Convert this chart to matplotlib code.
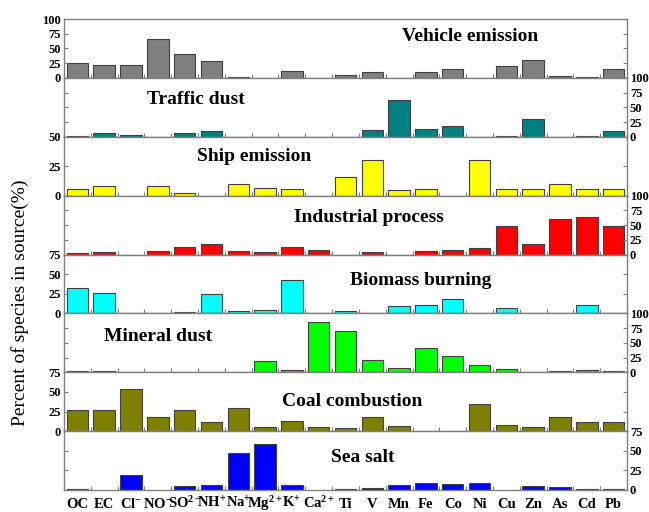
import matplotlib
matplotlib.use('Agg')
import matplotlib.pyplot as plt
import numpy as np

plt.rcParams['font.family'] = 'Liberation Serif'
plt.rcParams['mathtext.fontset'] = 'custom'
plt.rcParams['mathtext.rm'] = 'Liberation Serif:bold'
plt.rcParams['mathtext.it'] = 'Liberation Serif:bold'
plt.rcParams['mathtext.bf'] = 'Liberation Serif:bold'

species = ['OC', 'EC', 'Cl$^{-}$', 'NO$^{-}$', 'SO$^{2-}$', 'NH$^{+}$', 'Na$^{+}$', 'Mg$^{2+}$',
           'K$^{+}$', 'Ca$^{2+}$', 'Ti', 'V', 'Mn', 'Fe', 'Co', 'Ni', 'Cu', 'Zn', 'As', 'Cd', 'Pb']

vehicle = [25, 22, 22, 66, 41, 28, 1.7, 0, 12, 0, 5.6, 10.7, 0, 10.7, 15.8, 0, 19.8, 31, 3.4, 1.7, 15.8]
traffic = [0.5, 6, 3, 0, 7, 9, 0, 0, 0, 0, 0, 11.4, 62.7, 13.7, 18.8, 0, 1.7, 30.8, 0, 0.5, 10.3]
ship = [5.6, 7.9, 0, 7.9, 2, 0, 9.9, 6.2, 5.4, 0, 15.8, 30.5, 4.8, 5.4, 0, 30.2, 5.4, 5.4, 9.6, 5.4, 5.4]
industrial = [1.7, 3.5, 0, 5.8, 13, 17.9, 6.4, 4.6, 13, 8.1, 0, 4, 0, 5.8, 6.9, 11, 49, 18.5, 59.5, 63.6, 48]
biomass = [32.9, 26.2, 0, 0, 1.3, 25.3, 2.5, 3.8, 43, 0, 2.5, 0, 8.9, 10.5, 17.7, 0, 6.3, 0, 0, 10.1, 0.8]
mineral = [2.3, 2.3, 0, 0, 0, 0, 0, 19, 4.6, 84.6, 69.7, 20, 6.9, 41.7, 28, 12.6, 6.3, 0, 2.9, 4, 2.9]
coal = [26.6, 27.4, 54, 18.6, 26.6, 11, 29, 5.1, 12.7, 5.1, 4.2, 17.7, 6.3, 0, 0, 34.2, 8, 5.5, 18.6, 11.4, 11.4]
sea_salt = [1.3, 0, 19, 0, 4.7, 5.9, 47, 58, 6.8, 0, 1.3, 2.1, 6.4, 8.5, 7.6, 8.9, 0, 5.1, 3.4, 1.3, 1.3]

sources = ['Vehicle emission', 'Traffic dust', 'Ship emission', 'Industrial process',
           'Biomass burning', 'Mineral dust', 'Coal combustion', 'Sea salt']
data = [vehicle, traffic, ship, industrial, biomass, mineral, coal, sea_salt]
colors = ['#808080', '#008080', '#ffff00', '#ff0000', '#00ffff', '#00ff00', '#808000', '#0000ff']
ymax = [100, 100, 50, 100, 75, 100, 75, 75]
# title positions in axes fraction
title_pos = [(0.721, 0.695), (0.234, 0.627), (0.337, 0.66), (0.542, 0.62),
             (0.634, 0.56), (0.167, 0.61), (0.512, 0.51), (0.531, 0.56)]

fig = plt.figure(figsize=(6.49, 5.12), dpi=100)
left = 64 / 649
width = (627 - 64) / 649
top = 1 - 19 / 512
bottom = 1 - 490 / 512
h = (top - bottom) / 8

x = np.arange(len(species))
for i in range(8):
    ax = fig.add_axes([left, top - (i + 1) * h, width, h])
    vals = np.array(data[i], dtype=float)
    m = vals > 0
    ax.bar(x[m], vals[m], width=0.8, color=colors[i], edgecolor='#404040', linewidth=0.8)
    ax.set_xlim(-0.5, len(species) - 0.5)
    ax.set_ylim(0, ymax[i])
    ax.set_yticks(np.arange(0, ymax[i] + 1, 25))
    for s in ax.spines.values():
        s.set_color('#808080')
        s.set_linewidth(1.0)
    ax.tick_params(axis='y', direction='in', length=3, color='#808080',
                   left=True, right=True, labelsize=9, pad=2,
                   labelleft=(i % 2 == 0), labelright=(i % 2 == 1))
    for lab in ax.get_yticklabels():
        lab.set_fontweight('bold')
    ax.set_xticks(np.arange(-0.5, len(species), 1))
    ax.set_xticks(x, minor=True)
    ax.tick_params(axis='x', which='major', direction='in', length=3, color='#808080',
                   labelbottom=False)
    if i == 7:
        ax.set_xticklabels(species, minor=True)
        ax.tick_params(axis='x', which='minor', length=0, labelsize=10.5, pad=13)
        for lab in ax.get_xticklabels(minor=True):
            lab.set_fontweight('bold')
            lab.set_verticalalignment('baseline')
    else:
        ax.tick_params(axis='x', which='minor', length=0, labelbottom=False)
    ax.text(title_pos[i][0], title_pos[i][1], sources[i], transform=ax.transAxes,
            ha='center', va='center', fontsize=14, fontweight='bold')

fig.text(0.031, 0.408, 'Percent of species in source(%)', rotation=90,
         ha='center', va='center', fontsize=14)

fig.savefig('out.png', dpi=100)
